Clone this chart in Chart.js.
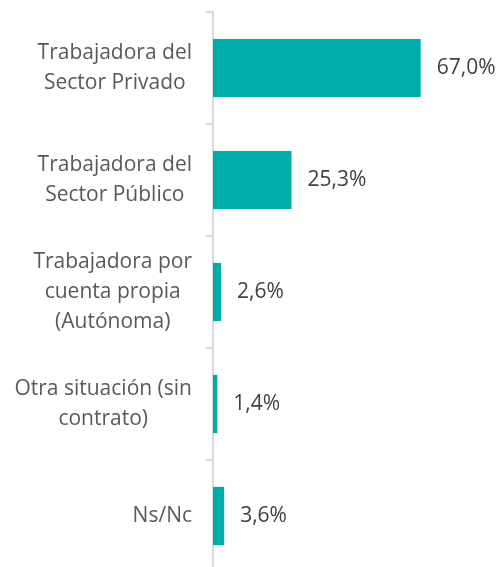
<!DOCTYPE html>
<html>
<head>
<meta charset="utf-8">
<script src="https://cdn.jsdelivr.net/npm/chart.js@4.4.0/dist/chart.umd.min.js"></script>
<style>
html,body{margin:0;padding:0;background:#fff;overflow:hidden;}
#wrap{position:relative;width:499px;height:580px;}
</style>
</head>
<body>
<div id="wrap"><canvas id="c"></canvas></div>
<script>
const categories = [
  ["Trabajadora del", "Sector Privado"],
  ["Trabajadora del", "Sector Público"],
  ["Trabajadora por", "cuenta propia", "(Autónoma)"],
  ["Otra situación (sin", "contrato)"],
  ["Ns/Nc"]
];
const values = [67.0, 25.3, 2.6, 1.4, 3.6];

const LABEL_FONT = '21px "Open Sans"';
const VALUE_FONT = '21px "Open Sans"';

const labelPlugin = {
  id: 'customLabels',
  afterDatasetsDraw(chart) {
    const ctx = chart.ctx;
    const meta = chart.getDatasetMeta(0);
    ctx.save();
    ctx.font = VALUE_FONT;
    ctx.fillStyle = '#404040';
    ctx.textBaseline = 'middle';
    ctx.textAlign = 'left';
    meta.data.forEach((bar, i) => {
      const txt = values[i].toFixed(1).replace('.', ',') + '%';
      ctx.fillText(txt, bar.x + 16, bar.y);
    });
    // category labels
    const y = chart.scales.y;
    ctx.font = LABEL_FONT;
    ctx.fillStyle = '#595959';
    ctx.textAlign = 'center';
    const lineH = 30;
    const blockRight = y.right - 21;
    categories.forEach((lines, i) => {
      const cy = y.getPixelForValue(i);
      let w = 0;
      lines.forEach(l => { w = Math.max(w, ctx.measureText(l).width); });
      const cx = blockRight - w / 2;
      const top = cy - (lines.length - 1) * lineH / 2;
      lines.forEach((l, k) => ctx.fillText(l, cx, top + k * lineH));
    });
    ctx.restore();
  }
};

new Chart(document.getElementById('c'), {
  type: 'bar',
  data: {
    labels: categories.map(c => c.join(' ')),
    datasets: [{
      data: values,
      backgroundColor: '#00ACA7',
      borderWidth: 0,
      barPercentage: 0.52,
      categoryPercentage: 1.0
    }]
  },
  options: {
    indexAxis: 'y',
    responsive: true,
    maintainAspectRatio: false,
    animation: false,
    layout: { padding: { top: 12, bottom: 8, right: 7, left: 0 } },
    plugins: { legend: { display: false }, tooltip: { enabled: false } },
    scales: {
      x: { display: false, min: 0, max: 90 },
      y: {
        afterFit(scale) { scale.width = 213; },
        ticks: { display: false },
        grid: { display: true, drawOnChartArea: false, drawTicks: true, tickLength: 7, color: '#d9d9d9', lineWidth: 2 },
        border: { display: true, color: '#d9d9d9', width: 2 }
      }
    }
  },
  plugins: [labelPlugin]
});
</script>
</body>
</html>
